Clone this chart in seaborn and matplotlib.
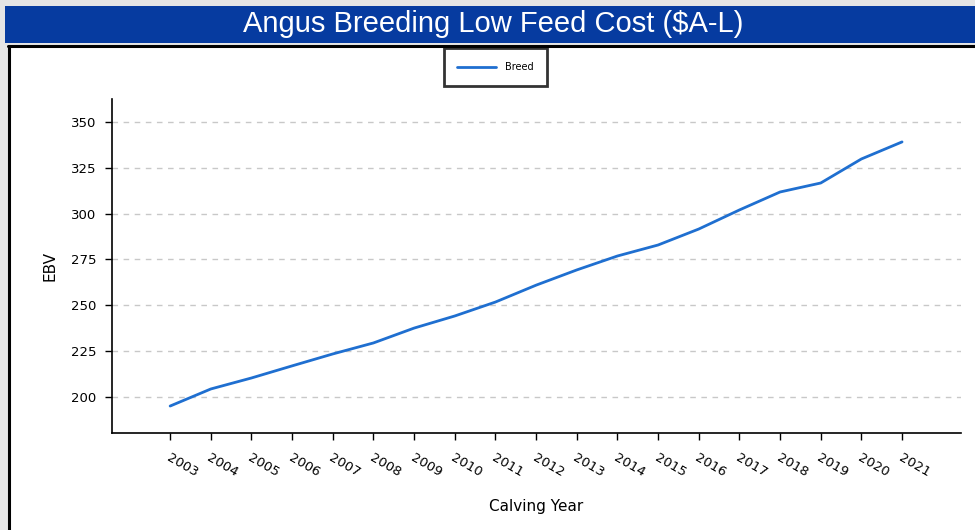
import matplotlib
matplotlib.use("Agg")
import matplotlib.pyplot as plt
import matplotlib.transforms as mtransforms
import seaborn as sns
import pandas as pd
from matplotlib.patches import Rectangle
from matplotlib.lines import Line2D

# values
years = [2003, 2004, 2005, 2006, 2007, 2008, 2009, 2010, 2011, 2012,
         2013, 2014, 2015, 2016, 2017, 2018, 2019, 2020, 2021]
breed_ebv = [195.1, 204.4, 210.4, 217.0, 223.5, 229.5, 237.6, 244.2, 251.8, 261.0,
             269.3, 276.9, 282.9, 291.6, 302.0, 311.8, 316.7, 329.8, 339.1]
y_ticks = [200, 225, 250, 275, 300, 325, 350]

df = pd.DataFrame({"Calving Year": years, "EBV": breed_ebv, "series": "Breed"})

sns.set_theme(style="white")
plt.rcParams["font.family"] = ["DejaVu Sans"]
plt.rcParams.update({
    "text.color": "black",
    "axes.labelcolor": "black",
    "xtick.color": "black",
    "ytick.color": "black",
})

fig = plt.figure(figsize=(9.75, 5.3), dpi=100)
fig.patch.set_facecolor("#e5e5e5")

W, H = 975.0, 530.0

# white panel with black border on top / left
fig.patches.append(Rectangle((8 / W, 0), 1, 1 - 45.5 / H, transform=fig.transFigure,
                             facecolor="white", edgecolor="none", zorder=-2))
fig.lines.append(Line2D([7.5 / W, 1], [1 - 45.5 / H, 1 - 45.5 / H], transform=fig.transFigure,
                        color="black", lw=2.2, zorder=-1))
fig.lines.append(Line2D([8.5 / W, 8.5 / W], [0, 1 - 45.5 / H], transform=fig.transFigure,
                        color="black", lw=2.2, zorder=-1))

# blue title banner
fig.patches.append(Rectangle((5 / W, 1 - 43 / H), 1, 37 / H, transform=fig.transFigure,
                             facecolor="#063ba0", edgecolor="none", zorder=-1))
fig.text(493 / W, 1 - 24.5 / H, "Angus Breeding Low Feed Cost ($A-L)", color="white",
         ha="center", va="center", fontsize=21, family="Liberation Sans")

ax = fig.add_axes([112 / W, 1 - 433 / H, (961 - 112) / W, (433 - 99) / H])
ax.set_facecolor("white")
ax.set_zorder(1)

sns.lineplot(data=df, x="Calving Year", y="EBV", hue="series", palette=["#1f6fd0"],
             linewidth=2.0, ax=ax, legend=False)

ax.set_xlim(2001.57, 2022.45)
ax.set_ylim(180.4, 362.5)
ax.set_xticks(years)
ax.set_xticklabels([str(y) for y in years], rotation=-30, ha="left", fontsize=9.5)
ax.set_yticks(y_ticks)
ax.set_yticklabels([str(v) for v in y_ticks], fontsize=9.5)
ax.tick_params(axis="both", direction="out", length=5, width=1, color="black",
               bottom=True, left=True)
ax.tick_params(axis="x", pad=8)
ax.tick_params(axis="y", pad=6)

# nudge rotated year labels a bit to the left
shift = mtransforms.ScaledTranslation(-6 / 100, 0, fig.dpi_scale_trans)
for lbl in ax.get_xticklabels():
    lbl.set_transform(lbl.get_transform() + shift)

ax.yaxis.grid(True, linestyle=(0, (4, 4)), color="#c8c8c8", linewidth=1)
ax.xaxis.grid(False)
for s in ["top", "right"]:
    ax.spines[s].set_visible(False)
for s in ["left", "bottom"]:
    ax.spines[s].set_color("black")
    ax.spines[s].set_linewidth(1.2)

ax.set_xlabel("Calving Year", fontsize=11, labelpad=14)
ax.set_ylabel("EBV", fontsize=11, labelpad=10)

handle = Line2D([], [], color="#1f6fd0", lw=2.0)
leg = fig.legend([handle], ["Breed"], loc="center", bbox_to_anchor=(495.5 / W, 1 - 67 / H),
                 fontsize=7, frameon=True, fancybox=False, handlelength=4.0,
                 borderpad=1.4, borderaxespad=0, handletextpad=0.9)
leg.get_frame().set_edgecolor("black")
leg.get_frame().set_linewidth(2)
leg.set_zorder(2)

fig.savefig("out.png", dpi=100, facecolor=fig.get_facecolor())
